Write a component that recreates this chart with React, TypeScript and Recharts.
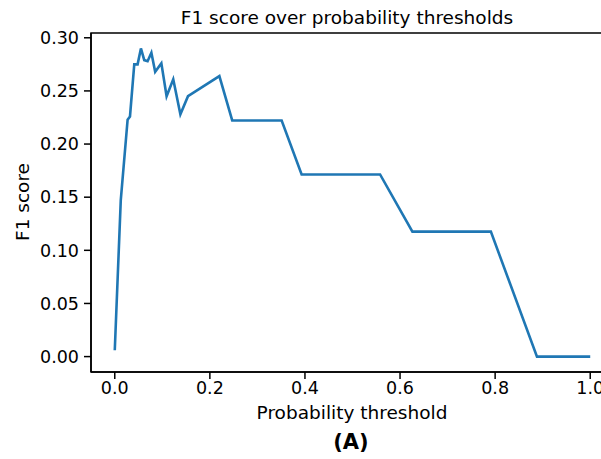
import React from "react";
import { LineChart, Line, XAxis, YAxis, ReferenceArea } from "recharts";

// values
const thresholds = [
  0.0, 0.0126, 0.027, 0.032, 0.041, 0.048, 0.055, 0.062, 0.069, 0.077, 0.085,
  0.098, 0.109, 0.123, 0.138, 0.154, 0.22, 0.247, 0.351, 0.393, 0.558, 0.626,
  0.791, 0.888, 1.0,
];
const f1Scores = [
  0.006, 0.147, 0.223, 0.226, 0.275, 0.275, 0.29, 0.279, 0.278, 0.286, 0.268,
  0.276, 0.245, 0.261, 0.228, 0.245, 0.264, 0.2222, 0.2222, 0.1714, 0.1714,
  0.1176, 0.1176, 0.0, 0.0,
];
const xTicks = [0, 0.2, 0.4, 0.6, 0.8, 1.0];
const yTicks = [0, 0.05, 0.1, 0.15, 0.2, 0.25, 0.3];

const data = thresholds.map((t, i) => ({ t, f1: f1Scores[i] }));

const font = "'DejaVu Sans', sans-serif";
const tickStyle = { fill: "#000", fontSize: 17.5, fontFamily: font };

export default function App() {
  return (
    <div
      style={{
        position: "absolute",
        left: 0,
        top: 0,
        width: 601,
        height: 459,
        overflow: "hidden",
        background: "#fff",
        fontFamily: font,
        color: "#000",
      }}
    >
      <LineChart
        width={620}
        height={459}
        data={data}
        margin={{ top: 33, right: 6, left: 0, bottom: 57 }}
      >
        <XAxis
          dataKey="t"
          type="number"
          domain={[-0.05, 1.05]}
          ticks={xTicks}
          tickFormatter={(v) => v.toFixed(1)}
          allowDataOverflow
          height={30}
          tick={tickStyle}
          tickSize={7}
          tickMargin={3}
          stroke="#000"
          strokeWidth={1.5}
        />
        <YAxis
          type="number"
          domain={[-0.0145, 0.3045]}
          ticks={yTicks}
          tickFormatter={(v) => v.toFixed(2)}
          allowDataOverflow
          width={91}
          tick={tickStyle}
          tickSize={7}
          tickMargin={5}
          stroke="#000"
          strokeWidth={1.5}
        />
        <ReferenceArea
          x1={-0.05}
          x2={1.05}
          y1={-0.0145}
          y2={0.3045}
          fill="none"
          stroke="#000"
          strokeWidth={1.5}
          ifOverflow="visible"
        />
        <Line
          type="linear"
          dataKey="f1"
          stroke="#1f77b4"
          strokeWidth={2.6}
          dot={false}
          isAnimationActive={false}
        />
      </LineChart>

      <div style={{ position: "absolute", left: 147, width: 400, top: 7, lineHeight: "22px", textAlign: "center", fontSize: 18.5 }}>
        F1 score over probability thresholds
      </div>
      <div
        style={{
          position: "absolute",
          left: 23 - 60,
          top: 202 - 12,
          width: 120,
          height: 24,
          lineHeight: "24px",
          textAlign: "center",
          fontSize: 18.5,
          whiteSpace: "nowrap",
          transform: "rotate(-90deg)",
        }}
      >
        F1 score
      </div>
      <div style={{ position: "absolute", left: 152, width: 400, top: 402, lineHeight: "22px", textAlign: "center", fontSize: 18.5 }}>
        Probability threshold
      </div>
      <div
        style={{
          position: "absolute",
          left: 151,
          width: 400,
          top: 429,
          lineHeight: "26px",
          textAlign: "center",
          fontSize: 21,
          fontWeight: "bold",
        }}
      >
        (A)
      </div>
    </div>
  );
}
